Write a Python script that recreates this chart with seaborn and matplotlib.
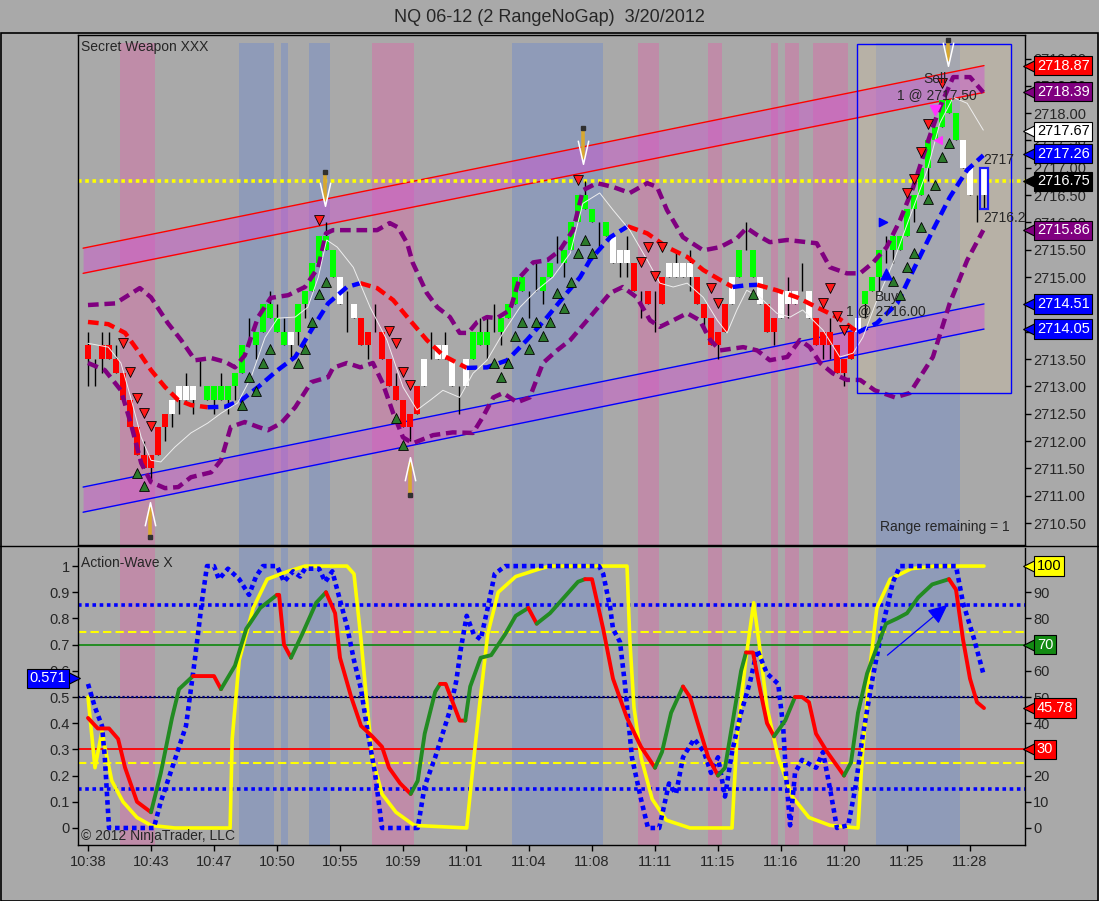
import numpy as np
import pandas as pd
import seaborn as sns
import matplotlib.pyplot as plt
from matplotlib.lines import Line2D
from matplotlib.patches import Rectangle
from matplotlib.transforms import blended_transform_factory

BG = '#a9a9a9'
sns.set_theme(style='white', rc={'axes.facecolor': BG, 'figure.facecolor': BG})
plt.rcParams['font.family'] = ['Liberation Sans', 'DejaVu Sans']

# ---- range bars (bar index 0..128) ----
opens = [2713.75, 2713.50, 2713.75, 2713.75, 2713.50, 2713.25, 2712.75, 2712.25, 2711.75, 2711.75,
         2711.75, 2712.25, 2712.50, 2712.75, 2712.75, 2712.75, 2713.00, 2712.75, 2712.75, 2712.75,
         2712.75, 2713.00, 2713.25, 2713.75, 2713.75, 2714.00, 2714.25, 2714.25, 2714.00, 2713.75,
         2714.00, 2714.50, 2714.75, 2715.25, 2715.50, 2715.50, 2715.00, 2714.50, 2714.50, 2714.25,
         2714.00, 2714.00, 2714.00, 2713.50, 2713.00, 2712.75, 2712.50, 2712.50, 2713.00, 2713.50,
         2713.50, 2713.50, 2713.50, 2713.00, 2713.00, 2713.50, 2713.75, 2713.75, 2714.00, 2714.00,
         2714.25, 2714.50, 2714.75, 2714.75, 2714.75, 2714.75, 2715.00, 2715.25, 2715.25, 2715.50,
         2716.00, 2716.25, 2716.25, 2716.00, 2716.00, 2715.75, 2715.50, 2715.50, 2715.25, 2714.75,
         2714.75, 2714.50, 2715.00, 2715.00, 2715.00, 2715.00, 2715.00, 2715.00, 2714.50, 2714.25,
         2714.00, 2714.00, 2714.50, 2715.00, 2715.50, 2715.00, 2715.00, 2714.50, 2714.25, 2714.25,
         2714.50, 2714.50, 2714.75, 2714.75, 2714.25, 2714.00, 2714.00, 2713.75, 2713.50, 2713.50,
         2714.00, 2714.50, 2714.75, 2715.00, 2715.50, 2715.50, 2715.50, 2715.75, 2716.25, 2716.50,
         2717.00, 2717.50, 2717.75, 2718.00, 2718.00, 2717.50, 2717.00, 2716.50, 2717.00]
closes = [2713.50, 2713.50, 2713.50, 2713.50, 2713.25, 2712.75, 2712.25, 2711.75, 2711.50, 2711.50,
          2712.25, 2712.50, 2712.75, 2713.00, 2713.00, 2713.00, 2713.00, 2713.00, 2713.00, 2713.00,
          2713.00, 2713.25, 2713.75, 2713.75, 2714.00, 2714.50, 2714.50, 2714.00, 2713.75, 2714.00,
          2714.50, 2714.75, 2715.25, 2715.75, 2715.75, 2715.00, 2714.50, 2714.50, 2714.25, 2713.75,
          2713.75, 2714.00, 2713.50, 2713.00, 2712.75, 2712.25, 2712.25, 2713.00, 2713.50, 2713.50,
          2713.75, 2713.75, 2713.00, 2713.00, 2713.50, 2714.00, 2714.00, 2714.00, 2714.00, 2714.25,
          2714.50, 2715.00, 2715.00, 2714.75, 2714.75, 2715.00, 2715.25, 2715.25, 2715.50, 2716.00,
          2716.50, 2716.50, 2716.00, 2716.00, 2715.75, 2715.25, 2715.25, 2715.25, 2714.75, 2714.75,
          2714.50, 2714.50, 2714.50, 2715.25, 2715.25, 2715.25, 2715.25, 2714.50, 2714.25, 2713.75,
          2713.75, 2714.50, 2715.00, 2715.50, 2715.50, 2715.50, 2714.50, 2714.00, 2714.00, 2714.75,
          2714.75, 2714.75, 2714.75, 2714.25, 2713.75, 2713.75, 2713.75, 2713.25, 2713.25, 2714.00,
          2714.25, 2714.75, 2715.00, 2715.50, 2715.50, 2715.75, 2715.75, 2716.25, 2716.50, 2717.00,
          2717.50, 2717.75, 2718.25, 2718.25, 2717.50, 2717.00, 2716.50, 2716.50, 2716.50]
highs = [2714.00, 2713.50, 2714.00, 2714.00, 2713.75, 2713.25, 2712.75, 2712.25, 2712.00, 2711.75,
         2712.25, 2712.50, 2712.75, 2713.00, 2713.25, 2713.00, 2713.50, 2713.00, 2713.00, 2713.25,
         2713.00, 2713.25, 2713.75, 2714.25, 2714.00, 2714.50, 2714.75, 2714.50, 2714.25, 2714.00,
         2714.50, 2714.75, 2715.25, 2715.75, 2716.00, 2715.50, 2715.00, 2714.75, 2714.50, 2714.25,
         2714.00, 2714.50, 2714.00, 2713.50, 2713.25, 2712.75, 2712.50, 2713.00, 2713.50, 2714.00,
         2713.75, 2714.00, 2713.50, 2713.00, 2713.50, 2714.00, 2714.25, 2714.25, 2714.50, 2714.25,
         2714.50, 2715.00, 2715.00, 2714.75, 2715.25, 2715.00, 2715.25, 2715.75, 2715.50, 2716.00,
         2716.50, 2716.75, 2716.25, 2716.00, 2716.00, 2715.75, 2715.50, 2715.75, 2715.25, 2714.75,
         2714.75, 2714.75, 2715.00, 2715.25, 2715.50, 2715.25, 2715.50, 2715.00, 2714.50, 2714.25,
         2714.00, 2714.50, 2715.00, 2715.50, 2716.00, 2715.50, 2715.00, 2714.50, 2714.25, 2714.75,
         2715.00, 2714.75, 2715.25, 2714.75, 2714.25, 2714.00, 2714.25, 2713.75, 2713.50, 2714.00,
         2714.25, 2714.75, 2715.00, 2715.50, 2715.75, 2715.75, 2715.75, 2716.25, 2716.50, 2717.00,
         2717.50, 2717.75, 2718.25, 2718.25, 2718.00, 2717.50, 2717.00, 2716.50, 2717.00]
lows = [2713.00, 2713.00, 2713.25, 2713.50, 2713.25, 2712.75, 2712.25, 2711.75, 2711.50, 2711.25,
        2711.75, 2712.00, 2712.25, 2712.50, 2712.75, 2712.50, 2713.00, 2712.75, 2712.50, 2712.75,
        2712.50, 2712.75, 2713.25, 2713.75, 2713.50, 2714.00, 2714.25, 2714.00, 2713.75, 2713.50,
        2713.75, 2714.25, 2714.75, 2715.25, 2715.50, 2715.00, 2714.50, 2714.00, 2714.25, 2713.75,
        2713.50, 2714.00, 2713.50, 2713.00, 2712.75, 2712.25, 2712.00, 2712.50, 2713.00, 2713.50,
        2713.50, 2713.50, 2713.00, 2712.50, 2713.00, 2713.50, 2713.75, 2713.50, 2714.00, 2713.75,
        2714.25, 2714.50, 2714.75, 2714.25, 2714.75, 2714.50, 2715.00, 2715.25, 2715.00, 2715.50,
        2716.00, 2716.25, 2716.00, 2715.50, 2715.75, 2715.25, 2715.00, 2715.00, 2714.75, 2714.25,
        2714.50, 2714.00, 2714.50, 2715.00, 2715.00, 2715.00, 2714.75, 2714.50, 2714.00, 2713.75,
        2713.50, 2714.00, 2714.50, 2715.00, 2715.50, 2715.00, 2714.50, 2714.00, 2713.75, 2714.25,
        2714.25, 2714.50, 2714.75, 2714.25, 2713.75, 2713.50, 2713.50, 2713.25, 2713.00, 2713.50,
        2714.00, 2714.25, 2714.75, 2714.75, 2715.25, 2715.25, 2715.50, 2715.75, 2716.00, 2716.50,
        2716.75, 2717.50, 2717.75, 2718.00, 2717.50, 2717.00, 2716.50, 2716.00, 2716.25]
# r = red, g = green, w = white, d = doji
bar_kind = ("rd" + "r" * 10 + "wwww" + "d" + "g" * 6 + "d" + "g" * 5 + "w" + "g" * 6 + "wdw" + "rr" + "d"
            + "r" * 6 + "wd" + "www" + "dw" + "ggg" + "d" + "gggg" + "dd" + "gg" + "d" + "g" * 5 + "dg"
            + "www" + "rdrdr" + "wwww" + "r" * 5 + "wgdgw" + "rr" + "www" + "dw" + "r" * 6 + "w" + "ggg"
            + "d" + "g" * 10 + "wwdw")

time_ticks = [0, 9, 18, 27, 36, 45, 54, 63, 72, 81, 90, 99, 108, 117, 126]
time_labels = ['10:38', '10:43', '10:47', '10:50', '10:55', '10:59', '11:01', '11:04',
               '11:08', '11:11', '11:15', '11:16', '11:20', '11:25', '11:28']

# background highlight columns (first bar, last bar)
pink_cols = [(5, 9), (41, 46), (79, 81), (89, 90), (98, 98), (100, 101), (104, 108)]
blue_cols = [(22, 26), (28, 28), (32, 34), (61, 73), (113, 124)]

# regression channels: value at start / end bar
chan_x = [-0.7, 128]
red_chan_top = [2715.53, 2718.87]
red_chan_bot = [2715.07, 2718.38]
blue_chan_top = [2711.16, 2714.51]
blue_chan_bot = [2710.70, 2714.05]

# trend average (red falling / blue rising)
ma_x = [0, 2.9, 5.3, 7.1, 9.0, 11.0, 12.9, 14.7, 17.1, 19.6, 21.9, 24.3, 27.1, 29.6, 31.9, 34.3, 37.0,
        38.9, 41.3, 43.6, 46.0, 48.4, 50.7, 54.1, 57.0, 59.9, 62.7, 65.6, 68.4, 70.3, 71.7, 74.6, 77.1,
        79.9, 82.7, 85.6, 87.9, 90.3, 92.1, 93.9, 95.6, 98.4, 101.3, 104.1, 107.0, 110.0, 112.7, 115.6,
        117.9, 120.7, 123.1, 125.6, 127.9]
ma_y = [2714.18, 2714.14, 2713.98, 2713.66, 2713.30, 2712.99, 2712.75, 2712.66, 2712.62, 2712.63,
        2712.75, 2712.99, 2713.30, 2713.54, 2714.03, 2714.52, 2714.82, 2714.89, 2714.80, 2714.58,
        2714.21, 2713.85, 2713.57, 2713.34, 2713.35, 2713.48, 2713.85, 2714.27, 2714.71, 2715.00,
        2715.31, 2715.73, 2715.93, 2715.80, 2715.55, 2715.37, 2715.13, 2714.95, 2714.82, 2714.85,
        2714.86, 2714.76, 2714.63, 2714.45, 2714.27, 2713.99, 2714.16, 2714.52, 2715.13, 2715.86,
        2716.46, 2716.96, 2717.23]

env_up_x = [0, 3.9, 7.4, 9.0, 11.4, 13.3, 15.3, 17.6, 19.6, 21.0, 22.4, 24.3, 26.1, 28.6, 31.0, 32.9,
            34.0, 35.0, 41.3, 43.1, 44.3, 45.6, 46.4, 48.4, 49.9, 51.7, 53.1, 54.3, 55.6, 57.0, 58.4,
            60.3, 61.7, 63.6, 65.6, 67.4, 69.3, 70.7, 72.7, 75.0, 77.4, 79.9, 81.3, 82.7, 85.0, 87.9,
            90.3, 92.7, 94.1, 95.6, 97.4, 99.9, 104.1, 106.0, 108.4, 110.3, 112.1, 114.1, 116.0, 117.9,
            119.9, 121.7, 123.6, 126.0, 127.9]
env_up_y = [2714.49, 2714.52, 2714.80, 2714.63, 2714.16, 2713.85, 2713.48, 2713.52, 2713.45, 2713.35,
            2713.57, 2714.27, 2714.62, 2714.67, 2714.82, 2715.18, 2715.80, 2715.86, 2715.86, 2715.99,
            2715.91, 2715.62, 2715.26, 2714.71, 2714.45, 2714.27, 2713.98, 2713.98, 2714.18, 2714.27,
            2714.25, 2714.40, 2715.00, 2715.27, 2715.31, 2715.49, 2715.86, 2716.59, 2716.72, 2716.65,
            2716.54, 2716.72, 2716.65, 2716.23, 2715.73, 2715.49, 2715.55, 2715.71, 2715.90, 2715.77,
            2715.64, 2715.68, 2715.62, 2715.18, 2715.07, 2715.07, 2715.26, 2715.55, 2716.04, 2716.65,
            2717.45, 2718.11, 2718.66, 2718.66, 2718.38]
env_lo_x = [0, 2.4, 4.7, 6.1, 7.6, 9.0, 11.0, 12.9, 14.7, 17.6, 19.0, 20.4, 22.4, 24.3, 25.7, 27.6,
            29.6, 31.9, 34.3, 35.0, 37.0, 38.9, 40.7, 42.1, 43.6, 45.0, 46.4, 49.3, 52.1, 55.0, 56.4,
            57.9, 59.3, 61.3, 63.1, 65.0, 67.0, 68.9, 71.7, 74.6, 76.4, 78.4, 80.3, 81.7, 83.6, 85.6,
            87.4, 88.9, 90.3, 93.6, 95.6, 97.4, 99.9, 101.7, 103.1, 104.6, 106.4, 108.4, 110.3, 112.4,
            115.3, 117.4, 120.7, 123.1, 125.6, 127.9]
env_lo_y = [2713.43, 2713.30, 2712.93, 2712.33, 2711.60, 2711.25, 2711.14, 2711.16, 2711.34, 2711.43,
            2711.65, 2712.26, 2712.35, 2712.26, 2712.20, 2712.33, 2712.62, 2713.08, 2713.17, 2713.34,
            2713.43, 2713.35, 2713.43, 2713.06, 2712.51, 2712.07, 2711.96, 2712.11, 2712.16, 2712.15,
            2712.44, 2712.80, 2712.88, 2712.71, 2712.80, 2713.43, 2713.66, 2713.85, 2714.27, 2714.71,
            2714.82, 2714.63, 2714.21, 2714.09, 2714.21, 2714.34, 2714.21, 2713.85, 2713.66, 2713.72,
            2713.66, 2713.48, 2713.54, 2713.85, 2713.72, 2713.43, 2713.24, 2713.12, 2713.12, 2712.93,
            2712.80, 2712.88, 2713.54, 2714.52, 2715.31, 2715.86]

fast_x = [0, 2.9, 4.7, 6.1, 7.6, 9.0, 10.4, 12.4, 14.7, 17.1, 19.0, 21.4, 23.3, 25.3, 27.1, 29.6, 31.4,
          32.9, 34.1, 35.6, 37.9, 40.3, 42.7, 45.0, 47.0, 48.9, 50.7, 53.1, 55.0, 57.0, 59.3, 61.7, 64.1,
          66.4, 68.9, 70.7, 73.1, 75.0, 77.4, 79.9, 81.7, 83.6, 85.6, 87.9, 89.9, 91.3, 92.7, 94.1, 96.0,
          98.4, 100.3, 102.1, 105.0, 107.4, 109.3, 110.7, 112.7, 115.0, 117.4, 119.9, 121.7, 123.6,
          125.6, 127.9]
fast_y = [2713.79, 2713.72, 2713.43, 2712.80, 2712.07, 2711.65, 2711.62, 2711.89, 2712.15, 2712.33,
          2712.51, 2712.70, 2713.17, 2713.90, 2714.25, 2714.27, 2714.45, 2715.00, 2715.68, 2715.55,
          2715.18, 2714.45, 2713.85, 2712.99, 2712.57, 2712.75, 2712.93, 2712.80, 2713.24, 2713.48,
          2713.98, 2714.45, 2714.76, 2715.00, 2715.44, 2716.35, 2716.54, 2716.23, 2715.86, 2715.31,
          2714.89, 2714.82, 2714.89, 2714.63, 2714.21, 2713.98, 2714.40, 2714.76, 2714.63, 2714.34,
          2714.27, 2714.40, 2714.03, 2713.54, 2713.61, 2713.90, 2714.58, 2715.26, 2716.10, 2716.96,
          2717.82, 2718.29, 2718.18, 2717.69]

sell_idx = [5, 6, 7, 8, 9, 33, 43, 44, 45, 46, 70, 79, 80, 81, 82, 89, 90, 105, 106, 107, 108,
            117, 118, 119, 120, 122]
sell_px = [2713.79, 2713.26, 2712.79, 2712.51, 2712.27, 2716.04, 2714.01, 2713.79, 2713.26, 2713.02,
           2716.77, 2715.27, 2715.55, 2715.02, 2715.55, 2714.80, 2714.52, 2714.52, 2714.80, 2714.29,
           2714.03, 2716.54, 2716.79, 2717.29, 2717.80, 2718.55]
buy_idx = [7, 8, 22, 23, 24, 25, 26, 30, 31, 32, 33, 34, 44, 45, 58, 59, 60, 61, 62, 63, 64, 65, 66,
           67, 68, 69, 70, 71, 72, 95, 115, 116, 117, 118, 119, 120, 121, 122, 123]
buy_px = [2711.42, 2711.18, 2712.66, 2713.17, 2712.91, 2713.43, 2713.68, 2713.43, 2713.68, 2714.18,
          2714.69, 2714.91, 2712.42, 2711.93, 2713.43, 2713.17, 2713.43, 2713.92, 2714.18, 2713.68,
          2714.18, 2713.92, 2714.18, 2714.71, 2714.43, 2714.91, 2715.44, 2715.68, 2715.44, 2714.69,
          2714.93, 2714.67, 2715.18, 2715.44, 2715.91, 2716.43, 2716.68, 2717.20, 2717.45]

# swing arrows: bar, tail price, tip price
swing_idx = [33.9, 70.7, 46.0, 8.9, 122.9]
swing_tail = [2716.92, 2717.73, 2711.01, 2710.24, 2719.34]
swing_tip = [2716.32, 2717.09, 2711.69, 2710.87, 2718.88]

price_tags = [(2718.87, '2718.87', 'red', 'white'), (2718.39, '2718.39', '#800080', 'white'),
              (2717.67, '2717.67', 'white', 'black'), (2717.26, '2717.26', '#0000ff', 'white'),
              (2716.75, '2716.75', 'black', 'white'), (2715.86, '2715.86', '#800080', 'white'),
              (2714.51, '2714.51', '#0000ff', 'white'), (2714.05, '2714.05', '#0000ff', 'white')]

# ---- Action-Wave oscillator ----
yel_x = [0, 1, 2, 2.4, 3.4, 5, 7, 9, 12.4, 20.3, 20.6, 21.6, 23.6, 25.6, 28.6, 31, 37, 38, 39, 39.9,
         40.6, 42, 44, 46.6, 54.1, 54.9, 55.9, 57.1, 58.6, 61.1, 64.6, 66, 77, 77.4, 78, 79, 80.6, 82.6,
         86, 92, 92.7, 94, 95.1, 96, 97, 98.6, 100.6, 103, 106, 110, 110.6, 111.6, 112.7, 114.6, 117.6,
         121, 128]
yel_y = [0.50, 0.23, 0.37, 0.31, 0.18, 0.10, 0.04, 0.01, 0.0, 0.0, 0.34, 0.64, 0.84, 0.95, 0.98, 1.0,
         1.0, 0.97, 0.72, 0.46, 0.27, 0.13, 0.06, 0.01, 0.0, 0.21, 0.46, 0.74, 0.90, 0.96, 0.99, 1.0,
         1.0, 0.72, 0.46, 0.27, 0.11, 0.03, 0.0, 0.0, 0.34, 0.65, 0.86, 0.68, 0.46, 0.27, 0.12, 0.04,
         0.01, 0.0, 0.27, 0.59, 0.84, 0.95, 0.99, 1.0, 1.0]
wave_x = [0, 1.4, 3, 4.3, 5.3, 7, 9, 10.4, 12, 13, 15, 18, 19, 21, 22.6, 24.6, 27, 27.3, 28, 29, 30.6,
          32.6, 34, 35.3, 36, 37.6, 39, 40.6, 42, 43, 44.6, 46.1, 47.1, 48.1, 49.6, 50.3, 51.1, 53.1,
          53.9, 54.6, 56.1, 57.6, 59.6, 61.1, 62.9, 64.1, 66, 68, 70, 71, 72, 73.6, 75, 77, 79, 81, 82,
          83.3, 85, 86, 87, 88.6, 90, 91, 92, 93.3, 94, 95, 96, 97, 98, 99.6, 101, 102, 103, 104, 105.6,
          108, 109, 110, 111.3, 112.7, 114, 115.6, 117, 118.6, 120.6, 123, 124, 125, 126, 127, 128]
wave_y = [0.42, 0.38, 0.38, 0.34, 0.23, 0.10, 0.06, 0.21, 0.42, 0.53, 0.58, 0.58, 0.53, 0.62, 0.76,
          0.84, 0.89, 0.89, 0.70, 0.65, 0.74, 0.86, 0.90, 0.82, 0.65, 0.50, 0.39, 0.35, 0.31, 0.23, 0.17,
          0.13, 0.18, 0.36, 0.52, 0.55, 0.55, 0.41, 0.41, 0.54, 0.65, 0.66, 0.74, 0.81, 0.84, 0.78, 0.82,
          0.88, 0.94, 0.95, 0.95, 0.76, 0.57, 0.42, 0.31, 0.23, 0.29, 0.44, 0.54, 0.50, 0.41, 0.27, 0.20,
          0.23, 0.39, 0.60, 0.67, 0.67, 0.53, 0.40, 0.35, 0.41, 0.50, 0.50, 0.48, 0.36, 0.29, 0.20, 0.25,
          0.44, 0.59, 0.69, 0.78, 0.80, 0.82, 0.88, 0.93, 0.95, 0.91, 0.72, 0.57, 0.48, 0.4578]
dot_x = [0, 1, 2, 2.4, 3, 9.4, 10.4, 12.4, 14, 15.3, 16.3, 17, 18, 18.7, 20, 21.6, 23, 24, 25, 27, 28,
         29.3, 30.3, 31, 33, 33.9, 34.9, 35.6, 37, 38, 39, 40, 41, 42, 47.1, 48.1, 49.6, 51.6, 52.6, 53.3,
         54.1, 55.1, 56.1, 57.1, 58.1, 59.6, 73, 73.6, 74.6, 75, 76, 76.7, 77.7, 79, 80, 81.6, 83, 84, 85,
         86.6, 88, 89, 90, 91, 92, 93.3, 94.6, 95.6, 97, 98.6, 99.3, 99.7, 100.3, 101, 102, 104, 105, 106,
         107, 108.6, 109.6, 110.6, 112, 113.6, 115, 116, 124, 125, 126.6, 128]
dot_y = [0.55, 0.46, 0.39, 0.27, 0.0, 0.0, 0.10, 0.26, 0.39, 0.65, 0.87, 1.0, 1.0, 0.95, 0.99, 0.95,
         0.89, 0.96, 1.0, 1.0, 0.94, 0.98, 0.96, 0.99, 0.99, 0.94, 0.98, 0.91, 0.77, 0.64, 0.53, 0.36,
         0.21, 0.0, 0.0, 0.16, 0.27, 0.44, 0.56, 0.69, 0.81, 0.74, 0.72, 0.84, 0.97, 1.0, 1.0, 0.97, 0.84,
         0.76, 0.71, 0.55, 0.27, 0.11, 0.0, 0.0, 0.17, 0.13, 0.27, 0.34, 0.29, 0.21, 0.27, 0.12, 0.29,
         0.44, 0.56, 0.68, 0.59, 0.55, 0.39, 0.21, 0.01, 0.21, 0.26, 0.23, 0.29, 0.15, 0.0, 0.01, 0.15,
         0.34, 0.56, 0.78, 0.94, 1.0, 1.0, 0.86, 0.72, 0.58]
osc_tags = [(100, '100', 'yellow', 'black'), (70, '70', '#138a13', 'white'),
            (45.78, '45.78', 'red', 'white'), (30, '30', 'red', 'white')]


def plot_by_slope(axis, xs, ys, up_col, down_col, **kw):
    xs, ys = np.asarray(xs), np.asarray(ys)
    rising = np.diff(ys) > 0
    start = 0
    for k in range(1, len(rising) + 1):
        if k == len(rising) or rising[k] != rising[start]:
            axis.plot(xs[start:k + 1], ys[start:k + 1],
                      color=up_col if rising[start] else down_col, **kw)
            start = k


def tag(axis, y, text, fc, tc, right=True):
    tr = blended_transform_factory(axis.transAxes, axis.transData)
    if right:
        axis.plot([1.0065], [y], marker='<', ms=11, color=fc, mec='black', mew=0.8,
                  transform=tr, clip_on=False, zorder=10)
        axis.text(1.0125, y, text, transform=tr, ha='left', va='center', fontsize=10.5, color=tc,
                  bbox=dict(boxstyle='square,pad=0.18', fc=fc, ec='black', lw=0.8),
                  clip_on=False, zorder=11)
    else:
        axis.plot([-0.0065], [y], marker='>', ms=11, color=fc, mec='black', mew=0.8,
                  transform=tr, clip_on=False, zorder=10)
        axis.text(-0.0125, y, text, transform=tr, ha='right', va='center', fontsize=10.5, color=tc,
                  bbox=dict(boxstyle='square,pad=0.18', fc=fc, ec='black', lw=0.8),
                  clip_on=False, zorder=11)


W, H = 1099, 901
fig = plt.figure(figsize=(W / 100, H / 100), dpi=100)
ax = fig.add_axes([78 / W, (H - 545) / H, 947 / W, 510 / H])
ax2 = fig.add_axes([78 / W, (H - 845) / H, 947 / W, 297 / H])
xlim = (-10 / 7, 937 / 7)
for a in (ax, ax2):
    a.set_facecolor(BG)
    a.set_xlim(*xlim)
    for s in a.spines.values():
        s.set_color('black')
        s.set_linewidth(1)
ax.set_ylim(2710.10, 2719.43)
ax2.set_ylim(-0.065, 1.069)
ax2.spines['top'].set_visible(False)

# background columns
for a, top in ((ax, 0.984), (ax2, 1.0)):
    for s, e in pink_cols:
        a.axvspan(s - 0.5, e + 0.5, ymax=top, color='#bf8ca8', lw=0, zorder=0)
    for s, e in blue_cols:
        a.axvspan(s - 0.5, e + 0.5, ymax=top, color='#8f9bb8', lw=0, zorder=0)

# strategy box
ax.add_patch(Rectangle((109.9, 2712.88), 22, 6.38, fc='#d8c4a0', alpha=0.3, ec='none', zorder=0.5))
ax.add_patch(Rectangle((109.9, 2712.88), 22, 6.38, fc='none', ec='#0000ff', lw=1, zorder=6))

# channels
ax.fill_between(chan_x, red_chan_bot, red_chan_top, color='#d24fd2', alpha=0.45, lw=0, zorder=1)
ax.fill_between(chan_x, blue_chan_bot, blue_chan_top, color='#d24fd2', alpha=0.45, lw=0, zorder=1)
for top_, bot_, col in ((red_chan_top, red_chan_bot, 'red'), (blue_chan_top, blue_chan_bot, 'blue')):
    ax.plot(chan_x, top_, color=col, lw=1, zorder=1.5)
    ax.plot(chan_x, bot_, color=col, lw=1, zorder=1.5)

ax.axhline(2716.75, color='#ffff00', ls=(0, (1, 1)), lw=2.6, zorder=2)

# candles
bars = pd.DataFrame({'o': opens, 'c': closes, 'h': highs, 'l': lows, 'kind': list(bar_kind)})
bars['x'] = np.arange(len(bars))
body_col = bars['kind'].map({'r': '#ff0000', 'g': '#00ff00', 'w': '#ffffff', 'd': 'black'})
ax.vlines(bars['x'], bars['l'], bars['h'], color='black', lw=1, zorder=2.8)
ax.bar(bars['x'], (bars['c'] - bars['o']).abs(), bottom=bars[['o', 'c']].min(axis=1),
       width=0.72, color=body_col, lw=0, zorder=3)
last = bars.iloc[-1]
ax.add_patch(Rectangle((last['x'] - 0.6, last['l']), 1.2, last['o'] - last['l'],
                       fc='none', ec='#1a1aff', lw=1.6, zorder=6))

# indicator lines
dash = (0, (2.4, 1.3))
sns.lineplot(x=env_up_x, y=env_up_y, ax=ax, color='#800080', lw=3.2, ls=dash,
             estimator=None, sort=False, zorder=4)
sns.lineplot(x=env_lo_x, y=env_lo_y, ax=ax, color='#800080', lw=3.2, ls=dash,
             estimator=None, sort=False, zorder=4)
plot_by_slope(ax, ma_x, ma_y, '#0000ff', '#ff0000', lw=3.2, ls=dash, zorder=4)
sns.lineplot(x=fast_x, y=fast_y, ax=ax, color='#eeeeee', lw=0.7, estimator=None, sort=False, zorder=4.5)

ax.scatter(sell_idx, sell_px, marker='v', s=50, c='#ff1a1a', edgecolors='black', linewidths=0.6, zorder=5)
ax.scatter(buy_idx, buy_px, marker='^', s=50, c='#2c7a2c', edgecolors='black', linewidths=0.6, zorder=5)

# swing arrows: dark cap, gold shaft, open white head
head_down = [(-0.45, 1), (0, -1), (0.45, 1)]
head_up = [(-0.45, -1), (0, 1), (0.45, -1)]
for xi, tail, tip in zip(swing_idx, swing_tail, swing_tip):
    down = tip < tail
    ax.plot([xi, xi], [tail, tip + (0.08 if down else -0.08)], color='#d8a830', lw=2.6,
            solid_capstyle='butt', zorder=6)
    ax.plot([xi], [tail], marker='s', ms=3.5, color='#303030', zorder=6.1)
    ax.plot([xi], [tip + (0.2 if down else -0.2)], marker=head_down if down else head_up, ms=17,
            mfc='none', mec='white', mew=1.1, zorder=6.2)

# trade markers
ax.scatter([114], [2715.05], marker='^', s=60, c='#0000ff', zorder=6)
ax.scatter([113.6], [2716.0], marker='>', s=35, c='#0000ff', zorder=6)
ax.scatter([121], [2718.05], marker='v', s=55, c='#ff33ff', zorder=6)
ax.scatter([121.4], [2717.5], marker='<', s=30, c='#ff33ff', zorder=6)
ax.text(121, 2718.62, 'Sell', ha='center', va='center', fontsize=10, zorder=7)
ax.text(121.3, 2718.33, '1 @ 2717.50', ha='center', va='center', fontsize=10, zorder=7)
ax.text(112.4, 2714.63, 'Buy', ha='left', va='center', fontsize=10, zorder=7)
ax.text(114, 2714.38, '1 @ 2716.00', ha='center', va='center', fontsize=10, zorder=7)
ax.text(127.9, 2717.14, '2717', ha='left', va='center', fontsize=10, zorder=7, clip_on=True)
ax.text(127.9, 2716.08, '2716.25', ha='left', va='center', fontsize=10, zorder=7, clip_on=True)
ax.text(113.1, 2710.43, 'Range remaining = 1', ha='left', va='center', fontsize=10, zorder=7)
ax.text(0.003, 0.976, 'Secret Weapon XXX', transform=ax.transAxes, ha='left', va='center', fontsize=10)

ax.yaxis.tick_right()
ax.set_yticks(np.arange(2710.5, 2719.01, 0.5))
ax.set_yticklabels([f'{v:.2f}' for v in np.arange(2710.5, 2719.01, 0.5)])
ax.tick_params(axis='y', right=True, left=False, length=4, width=1, color='black',
               labelsize=10.5, pad=2)
ax.tick_params(axis='x', bottom=False, labelbottom=False)
for v, t, fc, tc in price_tags:
    tag(ax, v, t, fc, tc)

# ---- oscillator panel ----
ax2.axhline(0.85, color='#0000ff', ls=(0, (1, 1)), lw=2.6, zorder=1)
ax2.axhline(0.15, color='#0000ff', ls=(0, (1, 1)), lw=2.6, zorder=1)
ax2.axhline(0.75, color='#ffff00', ls=(0, (4, 2)), lw=1.5, zorder=1)
ax2.axhline(0.25, color='#ffff00', ls=(0, (4, 2)), lw=1.5, zorder=1)
ax2.axhline(0.70, color='#1a8a1a', lw=1.3, zorder=1)
ax2.axhline(0.30, color='#ff0000', lw=1.3, zorder=1)
ax2.axhline(0.50, color='black', lw=0.8, zorder=1)
ax2.axhline(0.50, color='#000080', ls=(0, (1, 1)), lw=1.6, zorder=1)

sns.lineplot(x=yel_x, y=yel_y, ax=ax2, color='#ffff00', lw=2.6, estimator=None, sort=False, zorder=3)
sns.lineplot(x=dot_x, y=dot_y, ax=ax2, color='#0000ff', lw=3.3, ls=(0, (1, 0.85)),
             estimator=None, sort=False, zorder=3.5)
plot_by_slope(ax2, wave_x, wave_y, '#228b22', '#ff0000', lw=2.8, zorder=4)
ax2.annotate('', xy=(123.1, 0.859), xytext=(113.9, 0.653), zorder=5,
             arrowprops=dict(arrowstyle='-|>,head_length=1.0,head_width=0.45', color='#0000ff', lw=0.9))

ax2.text(0.003, 0.949, 'Action-Wave X', transform=ax2.transAxes, ha='left', va='center', fontsize=10)
ax2.text(0.003, 0.03, '\u00a9 2012 NinjaTrader, LLC', transform=ax2.transAxes, ha='left',
         va='center', fontsize=10)

ax2.set_yticks(np.arange(0, 1.01, 0.1))
ax2.set_yticklabels([f'{v:g}' for v in np.round(np.arange(0, 1.01, 0.1), 1)])
ax2.tick_params(axis='y', left=True, length=4, width=1, color='black', labelsize=10.5, pad=2)
ax2.set_xticks(time_ticks)
ax2.set_xticklabels(time_labels)
ax2.tick_params(axis='x', bottom=True, length=4, width=1, color='black', labelsize=10.5, pad=3)
tag(ax2, 0.571, '0.571', '#0000ff', 'white', right=False)

ax2r = ax2.twinx()
ax2r.set_ylim(-6.5, 106.9)
ax2r.set_yticks(np.arange(0, 101, 10))
ax2r.set_yticklabels([str(v) for v in range(0, 101, 10)])
ax2r.tick_params(axis='y', right=True, length=4, width=1, color='black', labelsize=10.5, pad=2)
for s in ax2r.spines.values():
    s.set_visible(False)
for v, t, fc, tc in osc_tags:
    tag(ax2r, v, t, fc, tc)

# frame and title
fig.add_artist(Rectangle((0.0005, 0.0005), 0.999, 1 - 33 / H, transform=fig.transFigure,
                         fc='none', ec='black', lw=1.2))
fig.add_artist(Line2D([0, 1], [1 - 546 / H] * 2, color='black', lw=1))
fig.text(0.5, 1 - 17 / H, 'NQ 06-12 (2 RangeNoGap)  3/20/2012', ha='center', va='center', fontsize=13)

fig.savefig('out.png', dpi=100, facecolor=BG)
